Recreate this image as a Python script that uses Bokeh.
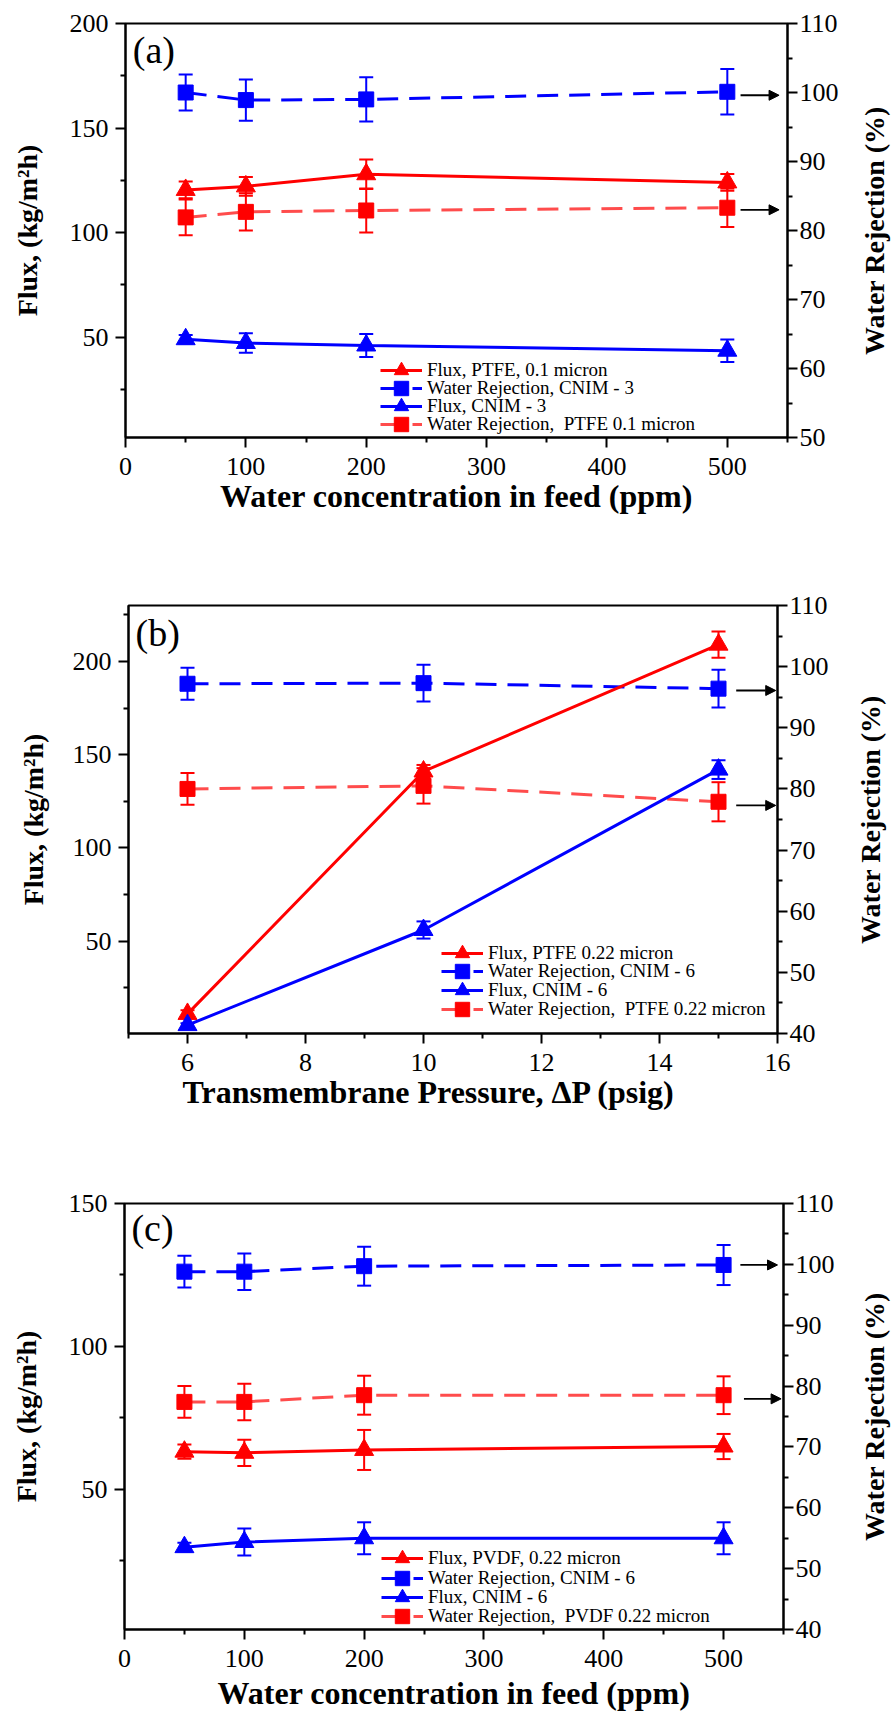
from bokeh.plotting import figure
from bokeh.models import (Range1d, LinearAxis, FixedTicker, Whisker, TeeHead, ColumnDataSource,
                          Legend, LegendItem, Arrow, NormalHead, Label)
from bokeh.layouts import column, row
from bokeh.embed import file_html
from bokeh.resources import INLINE

SERIF = "Liberation Serif"
RED = "#ff0000"
BLUE = "#0000ff"

# ---------------- data: panel (a) ----------------
a_x = [50, 100, 200, 500]
a_flux_ptfe = [120.4, 122.1, 127.9, 124.0]
a_flux_ptfe_err = [4.0, 4.5, 7.0, 4.0]
a_rej_cnim = [100.0, 98.9, 99.0, 100.1]
a_rej_cnim_err = [2.6, 3.0, 3.2, 3.3]
a_flux_cnim = [49.0, 47.2, 46.0, 43.5]
a_flux_cnim_err = [2.0, 4.7, 5.5, 5.4]
a_rej_ptfe = [81.9, 82.7, 82.9, 83.3]
a_rej_ptfe_err = [2.6, 2.7, 3.2, 2.8]
a_labels = ["Flux, PTFE, 0.1 micron", "Water Rejection, CNIM - 3",
            "Flux, CNIM - 3", "Water Rejection,  PTFE 0.1 micron"]
a_arrow_x = [511, 543]
a_arrow_y = [99.6, 83.0]

# ---------------- data: panel (b) ----------------
b_x = [6, 10, 15]
b_flux_ptfe = [11.0, 141.0, 209.0]
b_flux_ptfe_err = [2.0, 3.5, 7.0]
b_rej_cnim = [97.2, 97.3, 96.4]
b_rej_cnim_err = [2.6, 3.0, 3.1]
b_flux_cnim = [5.0, 56.0, 142.0]
b_flux_cnim_err = [1.0, 4.6, 5.0]
b_rej_ptfe = [80.0, 80.5, 77.9]
b_rej_ptfe_err = [2.6, 2.9, 3.2]
b_labels = ["Flux, PTFE 0.22 micron", "Water Rejection, CNIM - 6",
            "Flux, CNIM - 6", "Water Rejection,  PTFE 0.22 micron"]
b_arrow_x = [15.3, 15.97]
b_arrow_y = [96.1, 77.3]

# ---------------- data: panel (c) ----------------
c_x = [50, 100, 200, 500]
c_flux_pvdf = [63.2, 62.8, 63.8, 65.0]
c_flux_pvdf_err = [2.5, 4.6, 7.0, 4.4]
c_rej_cnim = [98.8, 98.8, 99.7, 99.9]
c_rej_cnim_err = [2.6, 3.0, 3.2, 3.3]
c_flux_cnim = [29.8, 31.6, 32.9, 32.9]
c_flux_cnim_err = [1.5, 4.7, 5.6, 5.6]
c_rej_pvdf = [77.4, 77.4, 78.5, 78.5]
c_rej_pvdf_err = [2.6, 3.0, 3.2, 3.1]
c_labels = ["Flux, PVDF, 0.22 micron", "Water Rejection, CNIM - 6",
            "Flux, CNIM - 6", "Water Rejection,  PVDF 0.22 micron"]
c_arrow_x = [[514, 545], [517, 548]]
c_arrow_y = [99.9, 77.9]

# tick labels / titles
conc_ticks = [0, 100, 200, 300, 400, 500]
press_ticks = [6, 8, 10, 12, 14, 16]
flux_title = "Flux, (kg/m\u00b2h)"
rej_title = "Water Rejection (%)"

MAIN_W = 850   # main plot width; the right-hand title sits in a narrow strip after it
SIDE_W = 891 - MAIN_W
DASH = "21 11"


def style_axis(ax, major, minor, tick_fs="26px", standoff=4):
    ax.ticker = FixedTicker(ticks=major, minor_ticks=minor)
    ax.axis_line_width = 2
    ax.axis_line_color = "black"
    ax.major_tick_line_width = 2
    ax.minor_tick_line_width = 2
    ax.major_tick_out = 10
    ax.major_tick_in = 0
    ax.minor_tick_out = 5
    ax.minor_tick_in = 0
    ax.major_label_text_font = SERIF
    ax.major_label_text_font_size = tick_fs
    ax.major_label_text_color = "black"
    ax.major_label_standoff = standoff
    ax.axis_label_text_font = SERIF
    ax.axis_label_text_font_style = "bold"
    ax.axis_label_text_color = "black"


def make_panel(cfg):
    p = figure(width=MAIN_W, height=cfg["height"], output_backend="svg", toolbar_location=None,
               x_range=Range1d(*cfg["xr"]), y_range=Range1d(*cfg["yl"]),
               min_border_left=cfg["bl"], min_border_right=MAIN_W - cfg["fr"],
               min_border_top=cfg["bt"], min_border_bottom=cfg["bb"])
    p.extra_y_ranges = {"right": Range1d(*cfg["yr"])}
    p.xgrid.visible = False
    p.ygrid.visible = False
    p.outline_line_color = "black"
    p.outline_line_width = 2
    p.background_fill_color = "white"
    p.border_fill_color = "white"

    xa = p.xaxis[0]
    style_axis(xa, cfg["xt"], cfg["xm"], standoff=cfg["xlso"])
    xa.axis_label = cfg["xlabel"]
    xa.axis_label_text_font_size = "32px"
    xa.axis_label_standoff = cfg["xaso"]

    ya = p.yaxis[0]
    style_axis(ya, cfg["ylt"], cfg["ylm"], standoff=7)
    ya.axis_label = flux_title
    ya.axis_label_text_font_size = "28px"
    ya.axis_label_standoff = cfg["ylaso"]

    ra = LinearAxis(y_range_name="right")
    style_axis(ra, cfg["yrt"], cfg["yrm"], standoff=2)
    p.add_layout(ra, "right")

    items = {}
    for s in cfg["series"]:
        rn = "right" if s["axis"] == "right" else "default"
        lo = [v - e for v, e in zip(s["y"], s["err"])]
        hi = [v + e for v, e in zip(s["y"], s["err"])]
        src = ColumnDataSource(dict(x=cfg["x"], y=s["y"], lo=lo, hi=hi))
        w = Whisker(source=src, base="x", upper="hi", lower="lo", dimension="height",
                    line_color=s["color"], line_width=2, y_range_name=rn,
                    upper_head=TeeHead(size=14, line_color=s["color"], line_width=2),
                    lower_head=TeeHead(size=14, line_color=s["color"], line_width=2))
        p.add_layout(w)
        lr = p.line("x", "y", source=src, line_color=s["color"], line_width=3,
                    line_dash=s["dash"], line_alpha=s["alpha"], y_range_name=rn)
        sr = p.scatter("x", "y", source=src, marker=s["marker"], size=s["size"],
                       fill_color=s["color"], line_color=s["color"], y_range_name=rn)
        items[s["order"]] = LegendItem(label=s["label"], renderers=[lr, sr])

    # one small legend per entry, stacked with the reference row pitch
    lx, base, pitch = cfg["legloc"]
    for i in range(4):
        leg = Legend(items=[items[i]], location=(lx, base + (3 - i) * pitch),
                     glyph_width=42, glyph_height=36, label_height=18, spacing=0,
                     padding=0, margin=0, border_line_alpha=0, background_fill_alpha=0,
                     label_standoff=5, label_text_font=SERIF, label_text_font_size="19px",
                     label_text_color="black")
        p.add_layout(leg)

    for (x0, x1), y in zip(cfg["arrows_x"], cfg["arrows_y"]):
        p.add_layout(Arrow(x_start=x0, x_end=x1, y_start=y, y_end=y, y_range_name="right",
                           line_width=1.8, line_color="black",
                           end=NormalHead(size=10, fill_color="black", line_color="black")))

    p.add_layout(Label(x=cfg["tag_xy"][0], y=cfg["tag_xy"][1], text=cfg["tag"],
                       text_font=SERIF, text_font_size="38px", text_baseline="middle",
                       text_color="black"))

    # narrow strip carrying the right-hand title (reads bottom-to-top, like the reference)
    nb = 16 + cfg["rt_center"] - MAIN_W
    n = figure(width=SIDE_W, height=cfg["height"], output_backend="svg", toolbar_location=None,
               x_axis_location=None, x_range=Range1d(0, 1), y_range=Range1d(0, 1),
               min_border_left=nb, min_border_right=0,
               min_border_top=cfg["bt"], min_border_bottom=cfg["bb"])
    n.outline_line_color = None
    n.xgrid.visible = False
    n.ygrid.visible = False
    n.background_fill_color = "white"
    n.border_fill_color = "white"
    na = n.yaxis[0]
    na.ticker = FixedTicker(ticks=[], minor_ticks=[])
    na.axis_line_color = None
    na.major_tick_line_color = None
    na.minor_tick_line_color = None
    na.major_tick_out = 0
    na.minor_tick_out = 0
    na.major_label_standoff = 0
    na.axis_label = rej_title
    na.axis_label_standoff = 0
    na.axis_label_text_font = SERIF
    na.axis_label_text_font_style = "bold"
    na.axis_label_text_font_size = "28px"
    na.axis_label_text_color = "black"
    return column(row(p, n, spacing=0))


def series_list(flux_r, e_flux_r, rej_b, e_rej_b, flux_b, e_flux_b, rej_r, e_rej_r, labels):
    return [
        dict(y=rej_r, err=e_rej_r, color=RED, alpha=0.7, dash=DASH, marker="square", size=15,
             axis="right", label=labels[3], order=3),
        dict(y=rej_b, err=e_rej_b, color=BLUE, alpha=1.0, dash=DASH, marker="square", size=15,
             axis="right", label=labels[1], order=1),
        dict(y=flux_r, err=e_flux_r, color=RED, alpha=1.0, dash="solid", marker="triangle", size=19,
             axis="left", label=labels[0], order=0),
        dict(y=flux_b, err=e_flux_b, color=BLUE, alpha=1.0, dash="solid", marker="triangle", size=19,
             axis="left", label=labels[2], order=2),
    ]


cfg_a = dict(
    height=580, bl=125, fr=787, bt=23, bb=143, rt_center=873,
    xr=(0, 550), yl=(2, 200), yr=(50, 110), x=a_x,
    xt=conc_ticks, xm=[50, 150, 250, 350, 450, 550],
    ylt=[50, 100, 150, 200], ylm=[25, 75, 125, 175],
    yrt=[50, 60, 70, 80, 90, 100, 110], yrm=[55, 65, 75, 85, 95, 105],
    xlabel="Water concentration in feed (ppm)", xlso=10, xaso=0, ylaso=24,
    series=series_list(a_flux_ptfe, a_flux_ptfe_err, a_rej_cnim, a_rej_cnim_err,
                       a_flux_cnim, a_flux_cnim_err, a_rej_ptfe, a_rej_ptfe_err, a_labels),
    legloc=(255, -5, 18.1),
    arrows_x=[a_arrow_x, a_arrow_x], arrows_y=a_arrow_y,
    tag="(a)", tag_xy=(6, 187.3),
)

cfg_b = dict(
    height=600, bl=128, fr=777, bt=25, bb=147, rt_center=869,
    xr=(5, 16), yl=(0.5, 230), yr=(40, 110), x=b_x,
    xt=press_ticks, xm=[5, 7, 9, 11, 13, 15],
    ylt=[50, 100, 150, 200], ylm=[25, 75, 125, 175, 225],
    yrt=[40, 50, 60, 70, 80, 90, 100, 110], yrm=[45, 55, 65, 75, 85, 95, 105],
    xlabel="Transmembrane Pressure, \u0394P (psig)" + "\u00a0" * 6, xlso=10, xaso=0, ylaso=21,
    series=series_list(b_flux_ptfe, b_flux_ptfe_err, b_rej_cnim, b_rej_cnim_err,
                       b_flux_cnim, b_flux_cnim_err, b_rej_ptfe, b_rej_ptfe_err, b_labels),
    legloc=(313, 6, 18.8),
    arrows_x=[b_arrow_x, b_arrow_x], arrows_y=b_arrow_y,
    tag="(b)", tag_xy=(5.12, 215.5),
)

cfg_c = dict(
    height=533, bl=124, fr=783, bt=23, bb=80, rt_center=873,
    xr=(0, 550), yl=(1, 150), yr=(40, 110), x=c_x,
    xt=conc_ticks, xm=[50, 150, 250, 350, 450, 550],
    ylt=[50, 100, 150], ylm=[25, 75, 125],
    yrt=[40, 50, 60, 70, 80, 90, 100, 110], yrm=[45, 55, 65, 75, 85, 95, 105],
    xlabel="Water concentration in feed (ppm)", xlso=10, xaso=5, ylaso=24,
    series=series_list(c_flux_pvdf, c_flux_pvdf_err, c_rej_cnim, c_rej_cnim_err,
                       c_flux_cnim, c_flux_cnim_err, c_rej_pvdf, c_rej_pvdf_err, c_labels),
    legloc=(257, -5, 19.2),
    arrows_x=c_arrow_x, arrows_y=c_arrow_y,
    tag="(c)", tag_xy=(5.8, 141.3),
)

pa = make_panel(cfg_a)
pb = make_panel(cfg_b)
pc = make_panel(cfg_c)

layout = column(pa, pb, pc, spacing=0)
open("out.html", "w").write(file_html(layout, INLINE))
